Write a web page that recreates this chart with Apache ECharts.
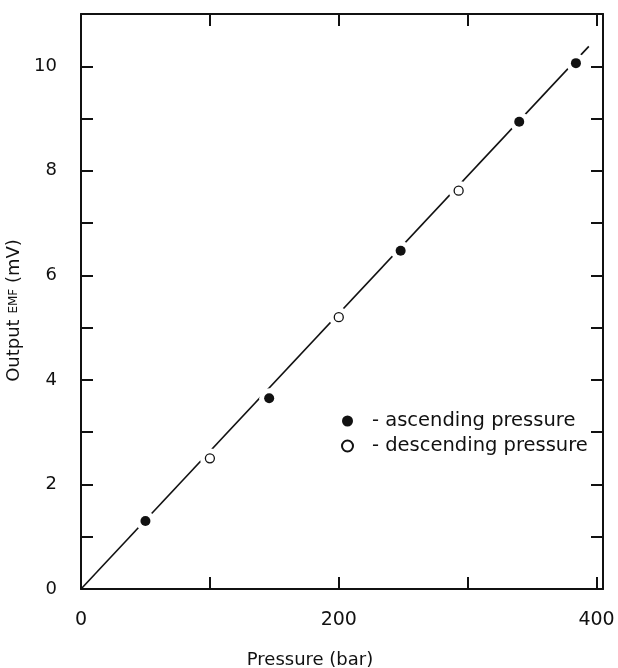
<!DOCTYPE html>
<html>
<head>
<meta charset="utf-8">
<script src="https://cdn.jsdelivr.net/npm/echarts@6/dist/echarts.min.js"></script>
<style>
  html, body { margin: 0; padding: 0; background: #fff; }
  #chart { width: 618px; height: 668px; }
</style>
</head>
<body>
<div id="chart"></div>
<script>
  // readings: pressure (bar) vs output EMF (mV)
  var ascendingP = [50, 146, 248, 340, 384];
  var ascendingEmf = [1.3, 3.65, 6.47, 8.94, 10.06];
  var descendingP = [100, 200, 293];
  var descendingEmf = [2.5, 5.2, 7.62];
  var fitP = [0, 394];
  var fitEmf = [0, 10.38];
  var xLabels = ['0', '200', '400'];
  var yLabels = ['0', '2', '4', '6', '8', '10'];

  function pairs(xs, ys) {
    var out = [];
    for (var i = 0; i < xs.length; i++) out.push([xs[i], ys[i]]);
    return out;
  }
  var ascData = pairs(ascendingP, ascendingEmf);
  var descData = pairs(descendingP, descendingEmf);

  var font = 'DejaVu Sans';
  var black = '#111';
  var tick = { show: true, inside: true, length: 12, lineStyle: { color: black, width: 2 } };
  var line = { show: true, onZero: false, lineStyle: { color: black, width: 2 } };

  var chart = echarts.init(document.getElementById('chart'));
  chart.setOption({
    animation: false,
    backgroundColor: '#fff',
    textStyle: { fontFamily: font, color: black },
    grid: { left: 81, right: 15, top: 14, bottom: 79, outerBoundsMode: 'none' },
    legend: {
      data: ['- ascending pressure', '- descending pressure'],
      orient: 'vertical',
      left: 336,
      top: 406,
      itemWidth: 11,
      itemHeight: 11,
      itemGap: 5,
      textStyle: { fontFamily: font, fontSize: 19.5, color: black, padding: [0, 0, 0, 14] }
    },
    xAxis: [{
      type: 'value', min: 0, max: 405, interval: 100,
      name: 'Pressure (bar)', nameLocation: 'middle', nameGap: 62,
      nameTextStyle: { fontFamily: font, fontSize: 18, color: black, padding: [0, 64, 0, 0] },
      axisLine: line,
      axisTick: tick,
      axisLabel: {
        margin: 22, fontSize: 19, color: black,
        formatter: function (v) { return xLabels.indexOf(String(v)) >= 0 ? String(v) : ''; }
      },
      splitLine: { show: false }
    }, {
      type: 'value', position: 'top', min: 0, max: 405, interval: 100,
      axisLine: line,
      axisTick: tick,
      axisLabel: { show: false },
      splitLine: { show: false }
    }],
    yAxis: [{
      type: 'value', min: 0, max: 11, interval: 1,
      name: 'Output {s|EMF} (mV)', nameLocation: 'middle', nameGap: 53,
      nameTextStyle: {
        fontFamily: font, fontSize: 18, color: black, padding: [0, 18, 0, 0],
        rich: { s: { fontFamily: font, fontSize: 12, color: black } }
      },
      axisLine: line,
      axisTick: tick,
      axisLabel: {
        margin: 24, fontSize: 18, color: black,
        formatter: function (v) { return yLabels.indexOf(String(v)) >= 0 ? String(v) : ''; }
      },
      splitLine: { show: false }
    }, {
      type: 'value', position: 'right', min: 0, max: 11, interval: 1,
      axisLine: line,
      axisTick: tick,
      axisLabel: { show: false },
      splitLine: { show: false }
    }],
    series: [{
      name: 'fit',
      type: 'line',
      data: pairs(fitP, fitEmf),
      symbol: 'none',
      lineStyle: { color: black, width: 1.6 },
      z: 2
    }, {
      name: 'gap',
      type: 'scatter',
      data: ascData.concat(descData),
      symbolSize: 20,
      itemStyle: { color: '#fff', opacity: 1 },
      silent: true,
      z: 3
    }, {
      name: '- ascending pressure',
      type: 'scatter',
      data: ascData,
      symbolSize: 10,
      itemStyle: { color: black, opacity: 1 },
      z: 4
    }, {
      name: '- descending pressure',
      type: 'scatter',
      data: descData,
      symbolSize: 9,
      itemStyle: { color: '#fff', borderColor: black, borderWidth: 1.3, opacity: 1 },
      z: 4
    }]
  });
</script>
</body>
</html>
